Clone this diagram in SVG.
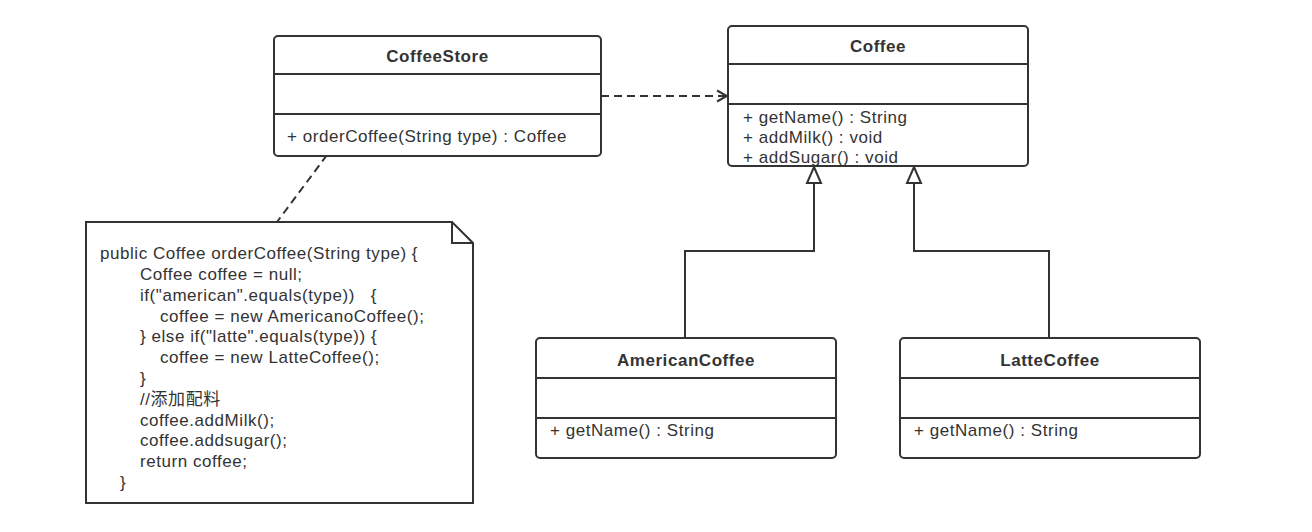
<svg xmlns="http://www.w3.org/2000/svg" width="1312" height="532" viewBox="0 0 1312 532">
<style>
.box{fill:#fff;stroke:#333;stroke-width:2}
.div{stroke:#333;stroke-width:2}
.t{font-family:"Liberation Sans","Noto Sans CJK SC",sans-serif;font-size:17px;letter-spacing:0.55px;fill:#333;white-space:pre}
.b{font-weight:bold;text-anchor:middle}
.c{fill:none;stroke:#333;stroke-width:2}
.d{stroke-dasharray:8,5}
</style>
<defs>
<marker id="open" markerWidth="14" markerHeight="14" refX="12" refY="7" orient="auto" markerUnits="userSpaceOnUse">
<path d="M2,1.5 L12,7 L2,12.5" fill="none" stroke="#333" stroke-width="2"/>
</marker>
<marker id="tri" markerWidth="18" markerHeight="20" refX="9" refY="1" orient="0" markerUnits="userSpaceOnUse">
<path d="M9,1 L16,17 L2,17 Z" fill="#fff" stroke="#333" stroke-width="2"/>
</marker>
</defs>
<rect width="1312" height="532" fill="#fff"/>
<g id="connectors">
<path class="c d" d="M601,96 L727,96" marker-end="url(#open)"/>
<path class="c d" d="M327,155 L277,222"/>
<path class="c" d="M685,338 L685,251 L814,251 L814,167" marker-end="url(#tri)"/>
<path class="c" d="M1049,338 L1049,251 L914,251 L914,167" marker-end="url(#tri)"/>
</g>
<g id="CoffeeStore">
<rect class="box" x="274" y="36" width="327" height="120" rx="4"/>
<line class="div" x1="274" y1="74" x2="601" y2="74"/>
<line class="div" x1="274" y1="114" x2="601" y2="114"/>
<text class="t b" x="437.5" y="62">CoffeeStore</text>
<text class="t" x="287" y="142">+ orderCoffee(String type) : Coffee</text>
</g>
<g id="Coffee">
<rect class="box" x="728" y="26" width="300" height="140" rx="4"/>
<line class="div" x1="728" y1="64" x2="1028" y2="64"/>
<line class="div" x1="728" y1="104" x2="1028" y2="104"/>
<text class="t b" x="878" y="52">Coffee</text>
<text class="t" x="743" y="123">+ getName() : String</text>
<text class="t" x="743" y="143">+ addMilk() : void</text>
<text class="t" x="743" y="163">+ addSugar() : void</text>
</g>
<g id="AmericanCoffee">
<rect class="box" x="536" y="338" width="300" height="120" rx="4"/>
<line class="div" x1="536" y1="378" x2="836" y2="378"/>
<line class="div" x1="536" y1="418" x2="836" y2="418"/>
<text class="t b" x="686" y="366">AmericanCoffee</text>
<text class="t" x="550" y="436">+ getName() : String</text>
</g>
<g id="LatteCoffee">
<rect class="box" x="900" y="338" width="300" height="120" rx="4"/>
<line class="div" x1="900" y1="378" x2="1200" y2="378"/>
<line class="div" x1="900" y1="418" x2="1200" y2="418"/>
<text class="t b" x="1050" y="366">LatteCoffee</text>
<text class="t" x="914" y="436">+ getName() : String</text>
</g>
<g id="note">
<path class="box" d="M86,222 L452,222 L473,243 L473,503 L86,503 Z"/>
<path class="c" d="M452,222 L452,243 L473,243"/>
<text class="t" x="100" y="259">public Coffee orderCoffee(String type) {</text>
<text class="t" x="140" y="280">Coffee coffee = null;</text>
<text class="t" x="140" y="301">if("american".equals(type))   {</text>
<text class="t" x="160" y="322">coffee = new AmericanoCoffee();</text>
<text class="t" x="140" y="342">} else if("latte".equals(type)) {</text>
<text class="t" x="160" y="363">coffee = new LatteCoffee();</text>
<text class="t" x="140" y="384">}</text>
<text class="t" x="140" y="405">//添加配料</text>
<text class="t" x="140" y="426">coffee.addMilk();</text>
<text class="t" x="140" y="446">coffee.addsugar();</text>
<text class="t" x="140" y="467">return coffee;</text>
<text class="t" x="120" y="488">}</text>
</g>
</svg>
